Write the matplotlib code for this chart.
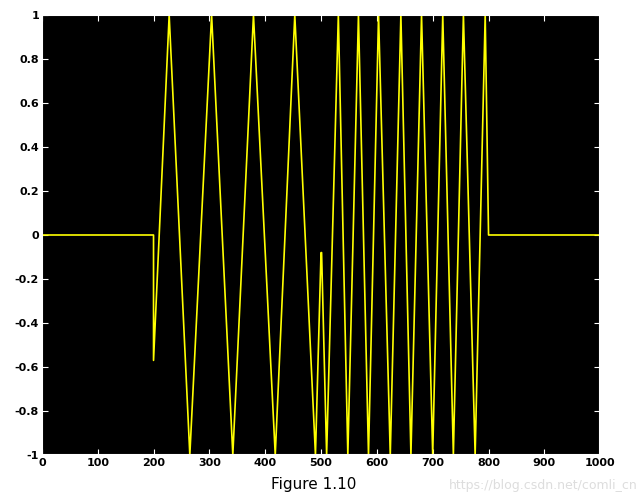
import matplotlib
matplotlib.use("Agg")
import matplotlib.pyplot as plt

# knots (sample index, amplitude)
xs = [0, 200, 200, 228, 265, 304, 342, 379, 418, 453, 490, 500, 501, 510,
      531, 548, 567, 585, 603, 624, 643, 661, 680, 700, 718, 737, 755, 776, 794, 800, 1000]
ys = [0, 0, -0.57, 1, -1, 1, -1, 1, -1, 1, -1, -0.08, -0.08, -1,
      1, -1, 1, -1, 1, -1, 1, -1, 1, -1, 1, -1, 1, -1, 1, 0, 0]
xticks = [0, 100, 200, 300, 400, 500, 600, 700, 800, 900, 1000]
yticks = [-1, -0.8, -0.6, -0.4, -0.2, 0, 0.2, 0.4, 0.6, 0.8, 1]
ylabels = ['-1', '-0.8', '-0.6', '-0.4', '-0.2', '0', '0.2', '0.4', '0.6', '0.8', '1']

fig = plt.figure(figsize=(6.44, 5.0), dpi=100)
ax = fig.add_axes([0.065, 0.09, 0.867, 0.88])
ax.set_facecolor('black')
ax.plot(xs, ys, color='#ffff00', lw=1.2)
ax.set_xlim(0, 1000)
ax.set_ylim(-1, 1)
ax.set_xticks(xticks)
ax.set_xticklabels([str(t) for t in xticks], fontsize=8, fontweight='bold')
ax.set_yticks(yticks)
ax.set_yticklabels(ylabels, fontsize=8, fontweight='bold')
ax.tick_params(direction='in', color='white', length=4, pad=2, top=True, right=True)
for s in ax.spines.values():
    s.set_color('white')
    s.set_linewidth(1.5)
fig.text(0.487, 0.022, 'Figure 1.10', ha='center', fontsize=11)
fig.text(0.99, 0.022, 'https://blog.csdn.net/comli_cn', ha='right', fontsize=9, color='#dddddd')
fig.savefig('out.png')
